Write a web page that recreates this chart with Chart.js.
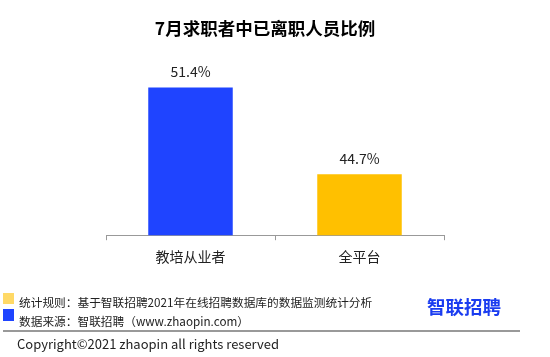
<!DOCTYPE html>
<html><head><meta charset="utf-8">
<script src="https://cdn.jsdelivr.net/npm/chart.js@4"></script>
<style>html,body{margin:0;padding:0;background:#fff;}#wrap{width:550px;height:357px;position:relative;}</style>
</head><body><div id="wrap"><canvas id="c" width="550" height="357"></canvas></div>
<script>
const categories = ['教培从业者', '全平台'];
const values = [51.4, 44.7];
const barColors = ['#1F44FF', '#FFC000'];
const titleText = '7月求职者中已离职人员比例';
const footLine1 = '统计规则：基于智联招聘2021年在线招聘数据库的数据监测统计分析';
const footLine2 = '数据来源：智联招聘（www.zhaopin.com）';
const copyright = 'Copyright©2021 zhaopin all rights reserved';
const logoText = '智联招聘';
const FONT = '"Noto Sans CJK SC", "Noto Sans", sans-serif';

const decor = {
  id: 'decor',
  afterDraw(chart) {
    const ctx = chart.ctx;
    ctx.save();
    // title
    ctx.fillStyle = '#000';
    ctx.font = 'bold 17.5px ' + FONT;
    ctx.textAlign = 'center';
    ctx.textBaseline = 'middle';
    ctx.fillText(titleText, 265, 28);
    // data labels
    const meta = chart.getDatasetMeta(0);
    ctx.font = '14px ' + FONT;
    ctx.fillStyle = '#222';
    meta.data.forEach((el, i) => {
      ctx.fillText(values[i].toFixed(1) + '%', el.x, el.y - 16);
    });
    // footer squares
    ctx.fillStyle = '#FFD966';
    ctx.fillRect(3, 293, 11, 11);
    ctx.fillStyle = '#1F44FF';
    ctx.fillRect(3, 309, 11, 12);
    ctx.fillStyle = '#222';
    ctx.textAlign = 'left';
    ctx.font = '11.7px ' + FONT;
    ctx.fillText(footLine1, 19, 303);
    ctx.fillText(footLine2, 19, 322);
    // logo
    ctx.fillStyle = '#1A3CF0';
    ctx.font = 'bold 18.5px ' + FONT;
    ctx.fillText(logoText, 427, 307);
    // separator
    ctx.strokeStyle = '#777';
    ctx.lineWidth = 1.5;
    ctx.beginPath();
    ctx.moveTo(3, 331);
    ctx.lineTo(520, 331);
    ctx.stroke();
    // copyright
    ctx.fillStyle = '#222';
    ctx.font = '13px ' + FONT;
    ctx.fillText(copyright, 17, 344);
    ctx.restore();
  }
};

new Chart(document.getElementById('c'), {
  type: 'bar',
  data: {
    labels: categories,
    datasets: [{ data: values, backgroundColor: barColors, borderWidth: 0,
      barPercentage: 0.5, categoryPercentage: 1.0 }]
  },
  options: {
    responsive: false,
    animation: false,
    layout: { padding: { left: 106, right: 106, top: 41, bottom: 84 } },
    plugins: { legend: { display: false }, tooltip: { enabled: false } },
    scales: {
      y: { display: false, min: 40, max: 55 },
      x: {
        grid: { drawOnChartArea: false, drawTicks: true, tickLength: 5, color: '#999' },
        border: { color: '#999', width: 1 },
        ticks: { color: '#222', font: { family: FONT, size: 14 }, padding: 8 }
      }
    }
  },
  plugins: [decor]
});
</script></body></html>
